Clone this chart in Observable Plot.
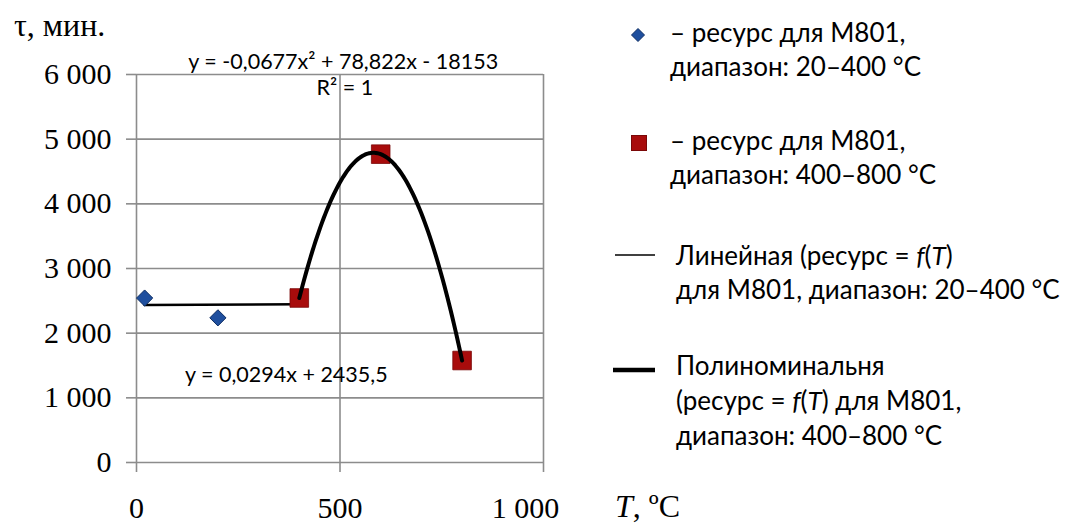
<!DOCTYPE html>
<html>
<head>
<meta charset="utf-8">
<script src="https://cdn.jsdelivr.net/npm/d3@7"></script>
<script src="https://cdn.jsdelivr.net/npm/@observablehq/plot@0.6"></script>
<style>
  html, body { margin: 0; background: #fff; }
  #chart { position: relative; width: 1070px; height: 524px; overflow: hidden; background: #fff; }
  #chart svg.plot { position: absolute; left: 0; top: 0; }
  .serif { position: absolute; font-family: "Liberation Serif", "Times New Roman", serif; color: #000; white-space: nowrap; line-height: 1; }
  .leg { position: absolute; font-family: Lato, "Open Sans", sans-serif; font-size: 26px; line-height: 34px; color: #000; white-space: nowrap; }
  .sym { position: absolute; line-height: 0; }
</style>
</head>
<body>
<div id="chart"></div>
<script>
// Resource (minutes) of M801 versus temperature, two ranges
const tempLow = [20, 200, 400];
const resLow = [2543, 2237, 2544];
const tempHigh = [400, 600, 800];
const resHigh = [2544, 4768, 1577];

// Trendline coefficients as printed on the chart
const linSlope = 0.0294, linIntercept = 2435.5;
const polyA = -0.0677, polyB = 78.822, polyC = -18153;

const yTicks = [0, 1000, 2000, 3000, 4000, 5000, 6000];
const xTicks = [0, 500, 1000];

const polyEqText = "y = -0,0677x² + 78,822x - 18153";
const r2Text = "R² = 1";
const linEqText = "y = 0,0294x + 2435,5";

const gridColor = "#8c8c8c";
const blueFill = "#1f4f9e", blueStroke = "#0d2d63";
const redFill = "#a80c0c", redStroke = "#7a0808";

const lowData = tempLow.map((t, i) => ({t, r: resLow[i]}));
const highData = tempHigh.map((t, i) => ({t, r: resHigh[i]}));

// Linear trend over the low range, polynomial trend over the high range
const linLine = [tempLow[0], tempLow[tempLow.length - 1]].map(t => ({t, r: linSlope * t + linIntercept}));
const polyLine = d3.range(tempHigh[0], tempHigh[tempHigh.length - 1] + 0.1, 4)
  .map(t => ({t, r: polyA * t * t + polyB * t + polyC}));

// Equation labels, anchored in data space
const eqLabels = [
  {text: polyEqText, t: 508, r: 6190},
  {text: r2Text, t: 512, r: 5790},
  {text: linEqText, t: 368, r: 1345}
];

// thousands separated by a space
const fmt = d => d3.format(",")(d).replace(/,/g, " ");
const serif = "Liberation Serif, Times New Roman, serif";
const sans = "Lato, Open Sans, sans-serif";

const plot = Plot.plot({
  width: 1070,
  height: 524,
  marginLeft: 136,
  marginRight: 527,
  marginTop: 74,
  marginBottom: 62,
  x: {domain: [0, 1000]},
  y: {domain: [0, 6000]},
  style: {background: "transparent", overflow: "visible"},
  marks: [
    Plot.ruleY(yTicks, {stroke: gridColor, strokeWidth: 1.6}),
    Plot.ruleX(xTicks, {stroke: gridColor, strokeWidth: 1.6}),
    Plot.axisY(yTicks, {tickSize: 10, tickPadding: 15, stroke: gridColor, strokeWidth: 1.6, fill: "#000",
      fontSize: 30, fontFamily: serif, tickFormat: fmt, label: null}),
    Plot.axisX(xTicks, {tickSize: 10, stroke: gridColor, strokeWidth: 1.6, fill: "none", label: null}),
    Plot.axisX(xTicks.slice(0, 2), {tickSize: 0, tickPadding: 34, fill: "#000", fontSize: 30,
      fontFamily: serif, tickFormat: fmt, label: null}),
    Plot.axisX(xTicks.slice(2), {tickSize: 0, tickPadding: 34, dx: -18, fill: "#000", fontSize: 30,
      fontFamily: serif, tickFormat: fmt, label: null}),
    Plot.line(linLine, {x: "t", y: "r", stroke: "#000", strokeWidth: 2.6}),
    Plot.dot(lowData, {x: "t", y: "r", symbol: "diamond2", r: 7.3, fill: blueFill, stroke: blueStroke, strokeWidth: 1}),
    Plot.dot(highData, {x: "t", y: "r", symbol: "square", r: 10.5, fill: redFill, stroke: redStroke, strokeWidth: 0.8}),
    Plot.line(polyLine, {x: "t", y: "r", stroke: "#000", strokeWidth: 4, curve: "linear"}),
    Plot.text(eqLabels, {x: "t", y: "r", text: "text", fontFamily: sans, fontSize: 21.5, fill: "#000"})
  ]
});
plot.classList.add("plot");

const chart = document.getElementById("chart");
chart.appendChild(plot);

function addDiv(cls, left, top, html, extra) {
  const el = document.createElement("div");
  el.className = cls;
  el.style.left = left + "px";
  el.style.top = top + "px";
  if (extra) Object.assign(el.style, extra);
  el.innerHTML = html;
  chart.appendChild(el);
  return el;
}

// Axis titles
addDiv("serif", 14, 9, "τ, мин.", {fontSize: "32px"});
addDiv("serif", 615, 490, "<i>T</i>, ºC", {fontSize: "32px"});

// Legend
const fT = "<i>f</i>(<i>T</i>)";
addDiv("sym", 631, 28, `<svg width="14" height="14"><path d="M7,0.5L13.5,7L7,13.5L0.5,7Z" fill="${blueFill}" stroke="${blueStroke}"/></svg>`);
addDiv("leg", 670, 15, "– ресурс для М801,<br>диапазон: 20–400 °C");
addDiv("sym", 631, 135, `<svg width="16" height="16"><rect x="0.5" y="0.5" width="15" height="15" fill="${redFill}" stroke="${redStroke}"/></svg>`);
addDiv("leg", 670, 123, "– ресурс для М801,<br>диапазон: 400–800 °C");
addDiv("sym", 615, 252, `<svg width="40" height="4"><line x1="0" y1="2" x2="40" y2="2" stroke="#000" stroke-width="1.5"/></svg>`);
addDiv("leg", 676, 238, `Линейная (ресурс = ${fT}<br>для М801, диапазон: 20–400 °C`);
addDiv("sym", 613, 367, `<svg width="42" height="6"><line x1="0" y1="3" x2="42" y2="3" stroke="#000" stroke-width="4.5"/></svg>`);
addDiv("leg", 676, 348, `Полиноминальня<br>(ресурс = ${fT} для М801,<br>диапазон: 400–800 °C`, {lineHeight: "35px"});
</script>
</body>
</html>
